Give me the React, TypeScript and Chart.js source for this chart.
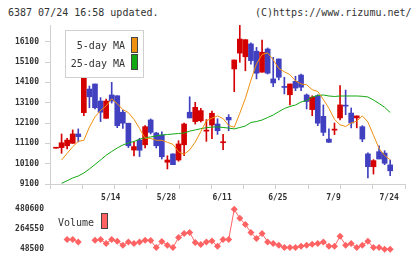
import React, { useEffect, useRef } from 'react';
import { Chart, registerables } from 'chart.js';
Chart.register(...registerables);

// ---- data (index 0 = first trading day shown, index 60 = 7/24) ----
const dateIdx = [10, 20, 30, 40, 50, 60];
const dateText = ['5/14', '5/28', '6/11', '6/25', '7/9', '7/24'];

const opens = [10860, 10890, 10980, 11100, 11560, 12610, 13770, 14020, 13180, 12330,
  13480, 13440, 12630, 12090, 10770, 11260, 11030, 12250, 11610, 11510,
  10170, 10580, 10280, 11030, 12630, 12170, 12210, 11700, 12000, 12050,
  11130, 12380, 14760, 15540, 15360, 15990, 15630, 14600, 15740, 14270,
  15250, 13870, 13490, 14150, 14460, 13480, 12760, 13440, 12430, 11310,
  11750, 12350, 12950, 12590, 12350, 11920, 10580, 9950, 10690, 10620, 10040];
const highs = [10860, 11560, 11350, 11760, 11810, 14460, 13920, 14020, 13350, 13280,
  14100, 13440, 12740, 12090, 11180, 11350, 11970, 12300, 11640, 11670,
  10490, 10580, 11230, 12100, 13390, 13120, 12820, 12270, 12690, 12310,
  11540, 12510, 15200, 16900, 16200, 16040, 15820, 16180, 15790, 15330,
  15250, 14350, 14020, 14400, 14510, 13530, 13440, 13490, 12990, 11810,
  12100, 13940, 13720, 12840, 12450, 11970, 10630, 10300, 10980, 10740, 10280];
const lows = [10860, 10610, 10820, 11100, 11170, 12460, 12850, 12790, 12170, 12330,
  13080, 11870, 11840, 10890, 10480, 10450, 10870, 11560, 10870, 10330,
  9840, 10050, 10220, 10490, 12350, 12050, 12150, 11200, 11330, 11540,
  10790, 11720, 13640, 15090, 14670, 15000, 14270, 14600, 14510, 13890,
  14220, 13530, 12990, 13690, 13690, 12790, 12460, 11970, 11480, 11150,
  11530, 12250, 12510, 11860, 11860, 11180, 9400, 9590, 10330, 10050, 9510];
const closes = [10860, 11130, 11260, 11560, 11430, 14380, 13390, 12850, 12630, 13180,
  13180, 11970, 12090, 10980, 10940, 10760, 11920, 11640, 10980, 10440,
  10280, 10050, 11070, 12050, 12350, 12870, 12710, 11740, 12580, 11720,
  11150, 12250, 15200, 16230, 16200, 15170, 14550, 15580, 14550, 14070,
  14350, 13850, 14020, 13820, 13860, 13160, 13370, 12090, 11640, 11150,
  11790, 12990, 12930, 12100, 12450, 11310, 9950, 10250, 10330, 10120, 9750];

const ma5 = [null, 10280, 10610, 10930, 11200, 11250, 11900, 12400, 12720, 12940,
  13290, 13050, 12760, 12610, 12280, 11830, 11350, 11340, 11250, 11250,
  11150, 11050, 10680, 10560, 10780, 11160, 11680, 12210, 12340, 12450,
  12320, 11980, 11890, 12580, 13310, 14210, 15010, 15470, 15550, 15210,
  14780, 14620, 14480, 14170, 14020, 13980, 13740, 13650, 13260, 12820,
  12280, 12010, 11930, 12100, 12190, 12450, 12150, 11500, 10850, 10500, 10290];
const ma25 = [null, 9134, 9262, 9395, 9494, 9641, 9838, 10059, 10281, 10512,
  10699, 10871, 11018, 11117, 11191, 11299, 11378, 11412, 11461, 11510,
  11535, 11560, 11584, 11609, 11700, 11760, 11820, 11870, 11900, 11910,
  11880, 11850, 11810, 11879, 11953, 12125, 12174, 12248, 12371, 12494,
  12657, 12814, 12912, 12986, 13134, 13207, 13380, 13453, 13478, 13429,
  13404, 13429, 13429, 13429, 13429, 13414, 13380, 13232, 13060, 12873, 12617];
const volume = [null, null, 154000, 154000, 128000, null, null, 146000, 154000, 110500,
  154000, 135600, 92000, 128000, 110500, 128000, 146000, 143000, 67000, 132300,
  92000, 67000, 175800, 219400, 230200, 121400, 99700, 128000, 138800, 81100,
  154000, 154000, 480600, 382600, 317300, 230200, 165000, 219400, 128000, 110500,
  92000, 67000, 67000, 67000, 81100, 92000, 102900, 110500, 128000, 81100,
  81100, 190000, 92000, 110500, 67000, 92000, 135600, 67000, 67000, 50000, 48500];

const priceTicks = [9100, 10100, 11100, 12100, 13100, 14100, 15100, 16100];
const volumeTicks = [48500, 264550, 480600];

// ---- styles ----
const RED = '#d40000';
const BLUE = '#4040c0';
const ORANGE = '#f0900f';
const GREEN = '#12a812';
const VOL = '#ff6262';
const GRID = '#d0d0d0';
const TXT = '#333333';
const MONO = '"DejaVu Sans Mono", "Liberation Mono", monospace';
const tickFont = { family: MONO, size: 8, weight: 'bold' as const };

const X_MIN = -1.077;
const X_MAX = 62.66;

export default function App() {
  const mainRef = useRef<HTMLCanvasElement>(null);
  const volRef = useRef<HTMLCanvasElement>(null);

  useEffect(() => {
    const idx = closes.map((_, i) => i);
    const colors = idx.map((i) => (closes[i] >= opens[i] ? RED : BLUE));
    const step = (X_MAX - X_MIN) / 11;
    const markTicks = Array.from({ length: 12 }, (_, k) => X_MIN + k * step);
    const labelMap = new Map<number, string>();
    dateIdx.forEach((d, k) => labelMap.set(d, dateText[k]));

    const main = new Chart(mainRef.current!, {
      type: 'bar',
      data: {
        datasets: [
          {
            type: 'line',
            data: idx.map((i) => ({ x: i, y: ma5[i] })) as any,
            borderColor: ORANGE,
            borderWidth: 1,
            pointRadius: 0,
            tension: 0,
            order: 0,
          },
          {
            type: 'line',
            data: idx.map((i) => ({ x: i, y: ma25[i] })) as any,
            borderColor: GREEN,
            borderWidth: 1,
            pointRadius: 0,
            tension: 0,
            order: 0,
          },
          {
            type: 'bar',
            data: idx.map((i) => ({ x: i, y: [lows[i], highs[i]] })) as any,
            backgroundColor: colors,
            barThickness: 1,
            grouped: false,
            order: 3,
          } as any,
          {
            type: 'bar',
            data: idx.map((i) => ({ x: i, y: [opens[i], closes[i]] })) as any,
            backgroundColor: colors,
            barThickness: 5,
            grouped: false,
            minBarLength: 1,
            order: 2,
          } as any,
        ],
      },
      options: {
        responsive: false,
        animation: false,
        devicePixelRatio: 1,
        events: [],
        layout: { padding: { left: 0, top: 25, right: 15, bottom: 0 } },
        plugins: { legend: { display: false }, tooltip: { enabled: false } },
        scales: {
          x: {
            type: 'linear',
            min: X_MIN,
            max: X_MAX,
            offset: false,
            grid: {
              offset: false,
              drawOnChartArea: false,
              drawTicks: true,
              tickLength: 5,
              color: GRID,
              tickColor: (ctx: any) => (ctx.tick && labelMap.has(ctx.tick.value) ? 'rgba(0,0,0,0)' : GRID),
            },
            border: { color: GRID },
            ticks: {
              autoSkip: false,
              maxRotation: 0,
              minRotation: 0,
              padding: 4,
              labelOffset: -1,
              color: TXT,
              font: tickFont,
              callback: (v: any) => labelMap.get(v) ?? '',
            },
            afterBuildTicks: (s: any) => {
              s.ticks = [...markTicks, ...dateIdx].sort((a, b) => a - b).map((v) => ({ value: v }));
            },
            afterFit: (s: any) => {
              s.height = 20;
              s.paddingLeft = 0;
              s.paddingRight = 0;
            },
          } as any,
          y: {
            type: 'linear',
            min: 9100,
            max: 16921,
            grid: { drawOnChartArea: false, tickLength: 5, color: GRID },
            border: { color: GRID },
            ticks: { color: TXT, font: tickFont, padding: 6, callback: (v: any) => String(v) },
            afterBuildTicks: (s: any) => {
              s.ticks = priceTicks.map((v) => ({ value: v }));
            },
            afterFit: (s: any) => {
              s.width = 50;
              s.paddingTop = 0;
              s.paddingBottom = 0;
            },
          } as any,
        },
      },
    });

    const vol = new Chart(volRef.current!, {
      type: 'line',
      data: {
        datasets: [
          {
            data: idx.map((i) => ({ x: i, y: volume[i] })) as any,
            borderColor: VOL,
            backgroundColor: VOL,
            borderWidth: 1,
            pointStyle: 'rectRot',
            pointRadius: 3.5,
            pointBorderWidth: 0,
            pointBackgroundColor: VOL,
            spanGaps: false,
            tension: 0,
          },
        ],
      },
      options: {
        responsive: false,
        animation: false,
        devicePixelRatio: 1,
        events: [],
        layout: { padding: { left: 0, top: 5, right: 15, bottom: 5 } },
        plugins: { legend: { display: false }, tooltip: { enabled: false } },
        scales: {
          x: { type: 'linear', min: X_MIN, max: X_MAX, display: false },
          y: {
            type: 'linear',
            min: -2272,
            max: 527050,
            grid: { display: false, drawTicks: false },
            border: { display: false },
            ticks: { color: TXT, font: tickFont, padding: 6, callback: (v: any) => String(v) },
            afterBuildTicks: (s: any) => {
              s.ticks = volumeTicks.map((v) => ({ value: v }));
            },
            afterFit: (s: any) => {
              s.width = 50;
              s.paddingTop = 0;
              s.paddingBottom = 0;
            },
          } as any,
        },
      },
    });

    return () => {
      main.destroy();
      vol.destroy();
    };
  }, []);

  const txt: React.CSSProperties = {
    position: 'absolute',
    fontFamily: MONO,
    fontSize: 10,
    lineHeight: '13px',
    color: TXT,
    whiteSpace: 'pre',
  };

  return (
    <div style={{ position: 'absolute', left: 0, top: 0, width: 420, height: 259, background: '#fff', overflow: 'hidden' }}>
      <div style={{ ...txt, left: 8, top: 6 }}>6387 07/24 16:58 updated.</div>
      <div style={{ ...txt, left: 255, top: 6 }}>(C)https://www.rizumu.net/</div>
      <canvas ref={mainRef} width={420} height={204} style={{ position: 'absolute', left: 0, top: 0 }} />
      <canvas ref={volRef} width={420} height={59} style={{ position: 'absolute', left: 0, top: 200 }} />
      <div style={{ position: 'absolute', left: 65, top: 30, width: 79, height: 48, boxSizing: 'border-box', border: `1px solid ${GRID}`, background: '#fff' }} />
      <div style={{ ...txt, left: 60, width: 65, textAlign: 'right', top: 39 }}>5-day MA</div>
      <div style={{ ...txt, left: 60, width: 65, textAlign: 'right', top: 57 }}>25-day MA</div>
      <div style={{ position: 'absolute', left: 131, top: 37, width: 7, height: 16, boxSizing: 'border-box', border: '1px solid #444', background: ORANGE }} />
      <div style={{ position: 'absolute', left: 131, top: 54, width: 7, height: 16, boxSizing: 'border-box', border: '1px solid #444', background: GREEN }} />
      <div style={{ ...txt, left: 58, top: 216 }}>Volume</div>
      <div style={{ position: 'absolute', left: 101, top: 213, width: 7, height: 16, boxSizing: 'border-box', border: '1px solid #444', background: VOL }} />
    </div>
  );
}
